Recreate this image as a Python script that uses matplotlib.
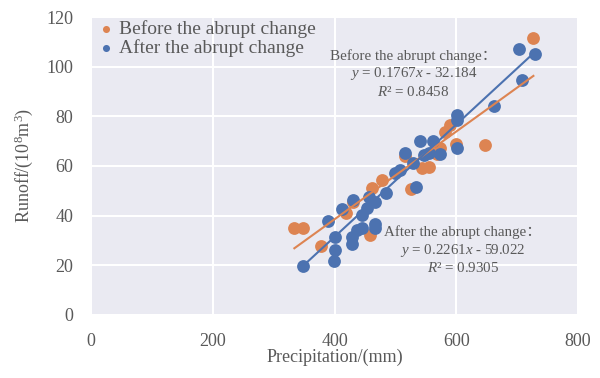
import numpy as np
import matplotlib.pyplot as plt

# Precipitation (mm) and runoff (10^8 m^3)
before_x = [334, 349, 377, 419, 431, 459, 462, 478, 516, 525, 544, 555,
            568, 574, 582, 590, 599, 647, 727]
before_y = [35.2, 35.2, 27.8, 41.2, 45.6, 32.2, 51.0, 54.4, 64.0, 50.9, 59.1, 59.7,
            65.0, 67.1, 73.8, 76.5, 68.9, 68.6, 111.7]

after_x = [349, 399, 401, 401, 389, 413, 431, 429, 429, 437, 445, 445, 453,
           456, 467, 466, 466, 484, 500, 508, 516, 534, 529, 541, 547, 555,
           562, 574, 601, 601, 601, 663, 703, 708, 730]
after_y = [19.5, 21.9, 26.2, 31.3, 38.0, 42.6, 46.3, 28.5, 31.5, 34.2, 34.9, 40.3, 43.0,
           47.6, 45.6, 36.6, 35.0, 49.3, 57.3, 58.4, 65.4, 51.4, 61.1, 70.1, 64.4, 65.1,
           70.1, 64.8, 80.5, 78.5, 67.1, 84.2, 107.1, 94.6, 105.0]

# trendline coefficients (slope, intercept) as printed on the chart
fit_before = [0.1767, -32.184]
fit_after = [0.2261, -59.022]

x_ticks = [0, 200, 400, 600, 800]
y_ticks = [0, 20, 40, 60, 80, 100, 120]

orange = '#DD8452'
blue = '#4C72B0'
grey = '#595959'

plt.rcParams['font.family'] = ['Liberation Serif', 'Noto Sans CJK SC']
plt.rcParams['mathtext.fontset'] = 'custom'
plt.rcParams['mathtext.rm'] = 'Liberation Serif'
plt.rcParams['mathtext.it'] = 'Liberation Serif:italic'

fig = plt.figure(figsize=(6, 3.78), dpi=100)
ax = fig.add_axes([0.152, 0.167, 0.811, 0.788])
ax.set_facecolor('#EAEAF2')
ax.grid(True, color='white', linewidth=1.5)
ax.set_axisbelow(True)
for s in ax.spines.values():
    s.set_visible(False)

# scatter points
ax.scatter(before_x, before_y, s=85, color=orange, label='Before the abrupt change',
           zorder=3, linewidths=0)
ax.scatter(after_x, after_y, s=85, color=blue, label='After the abrupt change',
           zorder=3, linewidths=0)

# linear trendlines
xb = np.array([min(before_x), max(before_x)])
ax.plot(xb, fit_before[0] * xb + fit_before[1], color=orange, lw=1.5, zorder=4)
xa = np.array([min(after_x), max(after_x)])
ax.plot(xa, fit_after[0] * xa + fit_after[1], color=blue, lw=1.5, zorder=4)

ax.set_xlim(0, 800)
ax.set_ylim(0, 120)
ax.set_xticks(x_ticks)
ax.set_yticks(y_ticks)
ax.tick_params(length=0, labelsize=13, labelcolor=grey)
ax.tick_params(axis='x', pad=13)
ax.tick_params(axis='y', pad=13)

ax.set_xlabel('Precipitation/(mm)', fontsize=13, color=grey, labelpad=-1)
ax.set_ylabel(r'Runoff/(10$^8$m$^3$)', fontsize=13, color=grey, labelpad=8)

# equations
ax.text(530, 107, 'Before the abrupt change：\n'
        r'$y$ = 0.1767$x$ - 32.184' '\n'
        r'$R$² = 0.8458',
        ha='center', va='top', fontsize=10.8, color=grey, linespacing=1.2)
ax.text(611, 36, 'After the abrupt change：\n'
        r'$y$ = 0.2261$x$ - 59.022' '\n'
        r'$R$² = 0.9305',
        ha='center', va='top', fontsize=10.8, color=grey, linespacing=1.2)

leg = ax.legend(loc='upper left', frameon=False, fontsize=14, markerscale=0.55,
                handletextpad=0.1, borderaxespad=0.0, labelspacing=0.05,
                borderpad=0.15, handlelength=1.2)
for t in leg.get_texts():
    t.set_color(grey)

fig.savefig('out.png', dpi=100)
